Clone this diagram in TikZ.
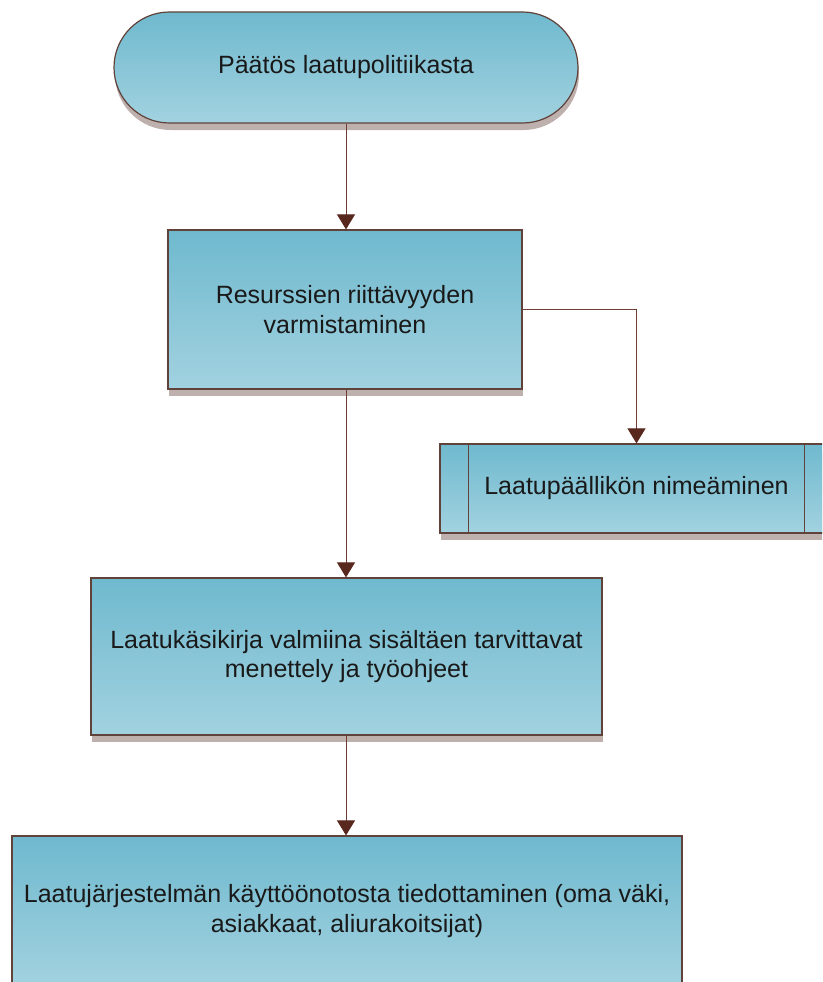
\documentclass[tikz,border=0pt]{standalone}
\usepackage{fontspec}
\setmainfont{Liberation Sans}
\usetikzlibrary{arrows.meta,shadows}
\definecolor{topc}{RGB}{111,185,206}
\definecolor{botc}{RGB}{162,210,224}
\definecolor{edgec}{RGB}{96,66,58}
\definecolor{linec}{RGB}{110,62,52}
\definecolor{tipc}{RGB}{88,40,30}
\definecolor{shadc}{RGB}{190,176,172}
\definecolor{txtc}{RGB}{25,25,25}
\tikzset{
  flowbox/.style={draw=edgec, line width=1.2pt, shading=axis, top color=topc, bottom color=botc,
    inner sep=0pt, anchor=center, align=center, text=txtc,
    font=\fontsize{25}{29.5}\selectfont,
    general shadow={fill=shadc, draw=none, shadow xshift=1pt, shadow yshift=-7pt}},
  conn/.style={draw=linec, line width=0.9pt, -{Triangle[length=15pt,width=18pt,color=tipc]}},
}
\begin{document}
\begin{tikzpicture}[x=1pt,y=-1pt]
\useasboundingbox (0,0) rectangle (822,982);
\clip (0,0) rectangle (822,982);
\node[flowbox, minimum width=464pt, minimum height=111pt, rounded corners=55.5pt] (t1) at (346,67.5) {Päätös laatupolitiikasta};
\node[flowbox, minimum width=354pt, minimum height=159pt] (b2) at (345,309.5) {Resurssien riittävyyden\\varmistaminen};
\node[flowbox, minimum width=393pt, minimum height=89pt] (b3) at (636.5,488.5) {Laatupäällikön nimeäminen};
\draw[draw=edgec, line width=1.2pt] ([xshift=29pt]b3.north west) -- ([xshift=29pt]b3.south west);
\draw[draw=edgec, line width=1.2pt] ([xshift=-29pt]b3.north east) -- ([xshift=-29pt]b3.south east);
\node[flowbox, minimum width=511pt, minimum height=157pt] (b4) at (346.5,656.5) {Laatukäsikirja valmiina sisältäen tarvittavat\\menettely ja työohjeet};
\node[flowbox, minimum width=670pt, minimum height=150pt] (b5) at (347,911) {Laatujärjestelmän käyttöönotosta tiedottaminen (oma väki,\\asiakkaat, aliurakoitsijat)};
\draw[conn] (t1.south) -- (t1.south |- b2.north);
\draw[conn] (b2.east) -| (b3.north);
\draw[conn] (t1.south |- b2.south) -- (t1.south |- b4.north);
\draw[conn] (t1.south |- b4.south) -- (t1.south |- b5.north);
\end{tikzpicture}
\end{document}
